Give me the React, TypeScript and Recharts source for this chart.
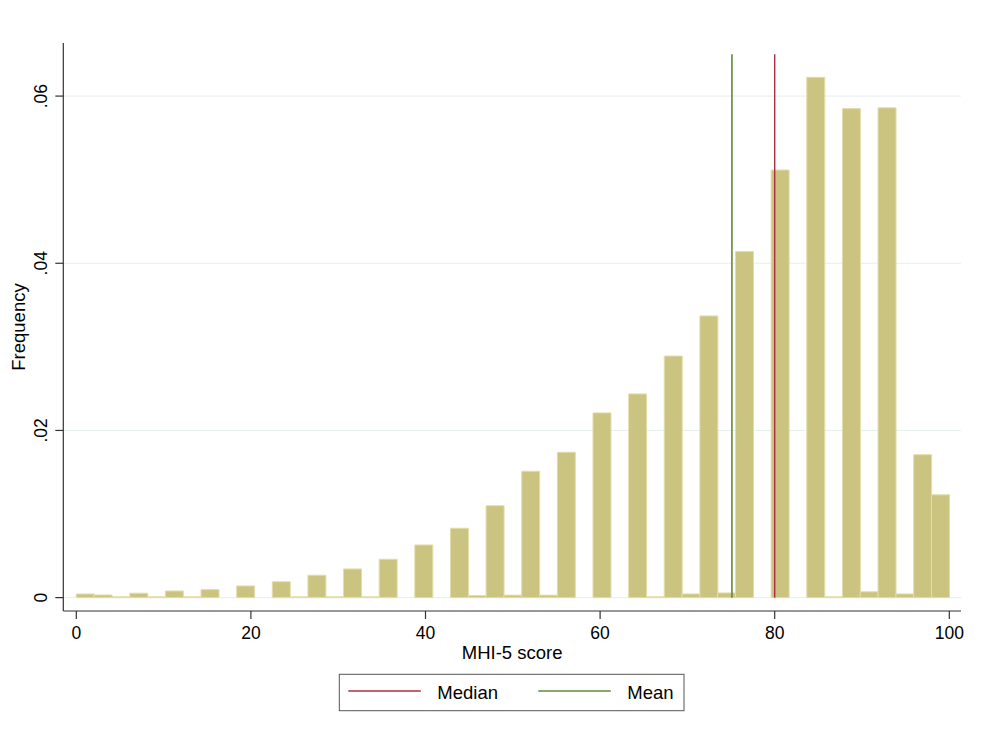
import React from 'react';
import { ComposedChart, Bar, XAxis, YAxis, CartesianGrid, ReferenceLine } from 'recharts';

// Histogram of MHI-5 scores: 49 equal-width bins spanning 0–100
const BIN_COUNT = 49;
const SCORE_MIN = 0;
const SCORE_MAX = 100;

// Density of each bin, left to right
const binDensity = [
  0.00044, 0.00032, 0.0001, 0.00053, 0.0001, 0.0008, 0.0001, 0.00096, 0, 0.0014,
  0, 0.0019, 0.0001, 0.00268, 0.0001, 0.00343, 0.0001, 0.00459, 0, 0.0063,
  0, 0.0083, 0.00024, 0.011, 0.0003, 0.01512, 0.0003, 0.01739, 0, 0.0221,
  0, 0.02437, 0.0001, 0.0289, 0.00044, 0.0337, 0.00056, 0.0414, 0, 0.05116,
  0, 0.06225, 0.0001, 0.0585, 0.0007, 0.0586, 0.00044, 0.0171, 0.0123,
];

// Summary statistics shown as vertical markers
const medianScore = 80;
const meanScore = 75.1;
const markerTop = 0.065;

const xTicks = [0, 20, 40, 60, 80, 100];
const yTicks = [0, 0.02, 0.04, 0.06];
const xDomain = [-1.49, 101.34];
const yDomain = [-0.0016, 0.06635];

const binWidth = (SCORE_MAX - SCORE_MIN) / BIN_COUNT;
const histogram = binDensity.map((density, i) => ({
  mid: SCORE_MIN + (i + 0.5) * binWidth,
  density,
}));

const FONT = '"Liberation Sans", Arial, Helvetica, sans-serif';
const BAR_FILL = '#cac480';
const BAR_EDGE = '#e2deaa';
const MEDIAN_COLOR = '#a8303f';
const MEAN_COLOR = '#5f8a3a';
const AXIS_COLOR = '#333333';
const GRID_COLOR = '#e7eef0';

const fmtY = (v: number) => (v === 0 ? '0' : v.toFixed(2).replace(/^0/, ''));

const YTick = (props: any) => {
  const { x, y, payload } = props;
  return (
    <text
      x={x}
      y={y}
      transform={`rotate(-90, ${x}, ${y})`}
      textAnchor="middle"
      fontSize={17.5}
      fontFamily={FONT}
      fill="#000"
    >
      {fmtY(payload.value)}
    </text>
  );
};

const XTitle = (props: any) => {
  const vb = props.viewBox;
  return (
    <text
      x={vb.x + vb.width / 2}
      y={vb.y + 48}
      textAnchor="middle"
      fontSize={18.5}
      fontFamily={FONT}
      fill="#000"
    >
      MHI-5 score
    </text>
  );
};

const YTitle = (props: any) => {
  const vb = props.viewBox;
  const cy = vb.y + vb.height / 2;
  const bx = 25;
  return (
    <text
      x={bx}
      y={cy}
      transform={`rotate(-90, ${bx}, ${cy})`}
      textAnchor="middle"
      fontSize={18.5}
      fontFamily={FONT}
      fill="#000"
    >
      Frequency
    </text>
  );
};

const legendItems = [
  { name: 'Median', color: MEDIAN_COLOR },
  { name: 'Mean', color: MEAN_COLOR },
];

const LegendBox = () => (
  <svg
    width={348}
    height={40}
    style={{ position: 'absolute', left: 337, top: 672, overflow: 'visible' }}
  >
    <rect x={2.3} y={2.3} width={344.7} height={36.4} fill="#fff" stroke="#555" strokeWidth={1} />
    {legendItems.map((item, i) => {
      const x0 = 11.3 + i * 190;
      return (
        <g key={item.name}>
          <line x1={x0} x2={x0 + 72.5} y1={19} y2={19} stroke={item.color} strokeWidth={1.5} />
          <text x={x0 + 89} y={27} fontSize={18.5} fontFamily={FONT} fill="#000">
            {item.name}
          </text>
        </g>
      );
    })}
  </svg>
);

export default function App() {
  return (
    <div style={{ position: 'absolute', left: 0, top: 0, width: 990, height: 747, background: '#fff' }}>
      <ComposedChart
        width={990}
        height={747}
        data={histogram}
        margin={{ top: 43, right: 29, left: 0, bottom: 0 }}
        barCategoryGap={0}
        barGap={0}
        style={{ fontFamily: FONT }}
      >
        <CartesianGrid
          horizontal
          vertical={false}
          stroke={GRID_COLOR}
          strokeWidth={1}
          horizontalValues={yTicks}
        />
        <XAxis
          dataKey="mid"
          type="number"
          domain={xDomain}
          ticks={xTicks}
          allowDataOverflow
          height={136}
          tickSize={8}
          tickMargin={8}
          axisLine={{ stroke: AXIS_COLOR, strokeWidth: 1.2 }}
          tickLine={{ stroke: AXIS_COLOR, strokeWidth: 1.2 }}
          tick={{ fontSize: 17.5, fill: '#000', fontFamily: FONT }}
          label={<XTitle />}
        />
        <YAxis
          type="number"
          domain={yDomain}
          ticks={yTicks}
          allowDataOverflow
          width={63.3}
          tickSize={8}
          tickMargin={7.8}
          axisLine={{ stroke: AXIS_COLOR, strokeWidth: 1.2 }}
          tickLine={{ stroke: AXIS_COLOR, strokeWidth: 1.2 }}
          tick={<YTick />}
          label={<YTitle />}
        />
        <Bar
          dataKey="density"
          fill={BAR_FILL}
          stroke={BAR_EDGE}
          strokeWidth={1}
          isAnimationActive={false}
        />
        <ReferenceLine
          segment={[{ x: meanScore, y: 0 }, { x: meanScore, y: markerTop }]}
          stroke={MEAN_COLOR}
          strokeWidth={1.6}
        />
        <ReferenceLine
          segment={[{ x: medianScore, y: 0 }, { x: medianScore, y: markerTop }]}
          stroke={MEDIAN_COLOR}
          strokeWidth={1.4}
        />
      </ComposedChart>
      <LegendBox />
    </div>
  );
}
